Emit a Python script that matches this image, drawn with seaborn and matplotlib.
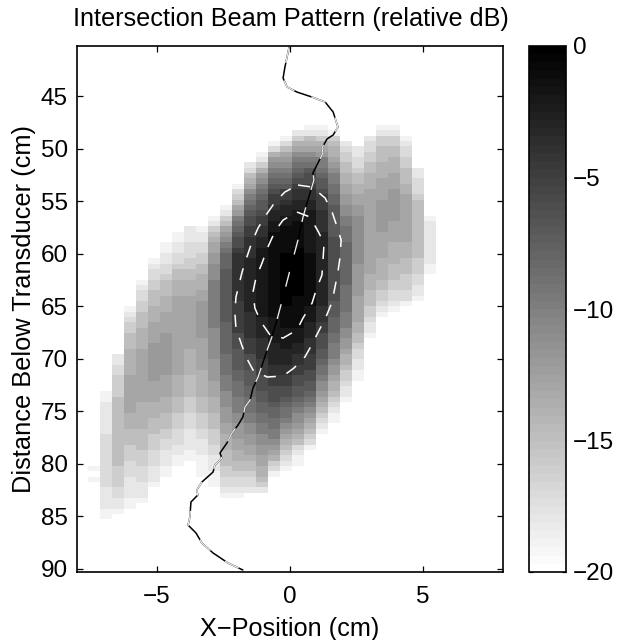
import numpy as np
import pandas as pd
import matplotlib
matplotlib.use('Agg')
import matplotlib.pyplot as plt
import seaborn as sns

# Beam pattern cells in dB, one list per x column, read top to bottom from the first row in col_start
col_start = [64, 50, 43, 34, 29, 25, 22, 20, 19, 19, 17, 15, 11, 7, 5, 3, 2, 1, 0, 0, 1, 3, 4, 2, 0, 0, 2, 8, 17]

col_00 = [-19, -20, -19]
col_01 = [-19, -19, -18, -18, -18, -18, -18, -18, -17, -17, -17, -17, -17, -17, -17, -17, -17, -17, -18, -18, -18, -18, -19, -19]
col_02 = [-18, -18, -17, -17, -16, -16, -16, -16, -15, -15, -15, -15, -15, -15, -15, -15, -15, -15, -15, -15, -15, -16, -16, -16, -16, -17, -17, -18, -18, -19]
col_03 = [-19, -18, -17, -16, -16, -15, -15, -15, -14, -14, -14, -14, -14, -13, -13, -13, -13, -13, -13, -13, -14, -14, -14, -15, -15, -15, -16, -16, -16, -17, -17, -17, -18, -18, -18, -18, -19, -19]
col_04 = [-19, -18, -17, -17, -16, -16, -15, -15, -15, -14, -14, -14, -14, -13, -13, -13, -13, -13, -13, -13, -13, -13, -13, -14, -14, -14, -14, -14, -15, -15, -15, -15, -16, -16, -16, -17, -17, -17, -18, -18, -18, -19]
col_05 = [-19, -18, -17, -17, -16, -16, -15, -15, -15, -14, -14, -14, -13, -13, -13, -13, -12, -12, -12, -12, -12, -12, -12, -13, -13, -13, -13, -14, -14, -14, -15, -15, -15, -16, -16, -16, -17, -17, -17, -18, -18, -18, -19]
col_06 = [-19, -19, -18, -18, -17, -17, -16, -15, -15, -15, -14, -14, -14, -13, -13, -13, -13, -12, -12, -12, -12, -12, -12, -12, -12, -13, -13, -13, -13, -14, -14, -14, -15, -15, -15, -16, -16, -17, -17, -18, -18, -18, -19, -19]
col_07 = [-19, -19, -18, -18, -17, -17, -16, -15, -15, -14, -14, -14, -13, -13, -13, -13, -13, -13, -13, -13, -13, -13, -13, -13, -13, -13, -13, -14, -14, -14, -14, -15, -15, -15, -16, -16, -16, -17, -17, -17, -18, -18, -19, -19]
col_08 = [-18, -18, -18, -17, -17, -17, -16, -16, -15, -15, -14, -14, -14, -13, -13, -13, -13, -13, -13, -13, -13, -13, -13, -14, -14, -14, -14, -14, -15, -15, -15, -15, -16, -16, -16, -17, -17, -17, -18, -18, -18, -18, -19, -19]
col_09 = [-19, -18, -18, -17, -17, -16, -16, -15, -15, -14, -14, -14, -13, -13, -12, -12, -12, -12, -12, -12, -12, -13, -13, -13, -13, -13, -13, -14, -14, -14, -14, -14, -15, -15, -15, -16, -16, -16, -17, -17, -18, -18, -18, -19, -19, -19, -19]
col_10 = [-19, -18, -16, -15, -14, -13, -13, -12, -12, -11, -11, -11, -10, -10, -10, -10, -10, -10, -10, -10, -10, -11, -11, -11, -11, -11, -11, -12, -12, -12, -12, -13, -13, -13, -14, -14, -14, -15, -15, -15, -16, -16, -16, -17, -17, -18, -18, -18, -19, -19, -19]
col_11 = [-19, -18, -16, -15, -13, -12, -11, -10, -9, -8, -8, -8, -7, -7, -7, -7, -7, -7, -7, -7, -7, -7, -8, -8, -8, -8, -8, -8, -9, -9, -9, -9, -10, -10, -10, -11, -11, -11, -12, -12, -12, -13, -13, -14, -14, -14, -15, -15, -15, -16, -16, -17, -17, -18, -19]
col_12 = [-19, -17, -16, -15, -13, -12, -10, -9, -8, -7, -6, -6, -5, -4, -4, -4, -4, -4, -4, -4, -4, -4, -5, -5, -5, -5, -5, -5, -6, -6, -6, -7, -7, -7, -7, -8, -8, -9, -9, -9, -10, -10, -10, -11, -11, -12, -12, -12, -13, -13, -14, -14, -15, -15, -16, -17, -17, -18, -19]
col_13 = [-18, -17, -15, -14, -13, -11, -10, -9, -8, -7, -6, -6, -5, -5, -4, -4, -4, -4, -3, -3, -3, -3, -3, -3, -3, -3, -3, -3, -4, -4, -4, -4, -4, -5, -5, -5, -6, -6, -6, -7, -7, -7, -8, -8, -9, -9, -9, -10, -10, -11, -11, -12, -12, -13, -13, -14, -15, -15, -16, -17, -17, -18]
col_14 = [-19, -18, -16, -14, -12, -11, -10, -9, -8, -7, -7, -6, -5, -5, -4, -4, -3, -3, -2, -2, -2, -2, -2, -2, -2, -2, -2, -2, -2, -2, -2, -3, -3, -3, -3, -4, -4, -4, -4, -5, -5, -5, -6, -6, -6, -7, -7, -8, -8, -9, -9, -10, -10, -11, -11, -12, -12, -13, -13, -14, -14, -15, -16, -18]
col_15 = [-19, -17, -14, -12, -11, -10, -9, -8, -7, -6, -5, -5, -4, -3, -3, -2, -2, -1, -1, -1, -1, -1, -1, -1, -1, -1, -1, -1, -1, -1, -1, -1, -1, -2, -2, -2, -2, -2, -3, -3, -3, -3, -4, -4, -5, -5, -6, -6, -6, -7, -8, -8, -9, -9, -10, -10, -11, -12, -13, -14, -16, -17, -19]
col_16 = [-19, -17, -15, -13, -12, -11, -10, -9, -8, -7, -5, -5, -4, -3, -3, -2, -2, -1, -1, -1, -1, -1, 0, 0, 0, 0, 0, 0, 0, 0, 0, 0, -1, -1, -1, -1, -2, -2, -2, -2, -3, -3, -3, -4, -4, -5, -5, -6, -6, -7, -8, -9, -9, -10, -11, -12, -13, -14, -15, -16, -17, -18, -19]
col_17 = [-18, -16, -14, -13, -11, -10, -9, -8, -7, -6, -5, -4, -4, -3, -3, -2, -2, -1, -1, -1, -1, -1, 0, 0, 0, 0, 0, 0, 0, 0, 0, -1, -1, -1, -1, -1, -1, -2, -2, -2, -3, -3, -4, -4, -5, -5, -6, -6, -7, -7, -8, -9, -10, -11, -11, -12, -13, -14, -15, -17, -18, -19, -19]
col_18 = [-19, -18, -15, -14, -13, -11, -10, -9, -7, -6, -6, -5, -4, -4, -3, -3, -2, -2, -2, -2, -2, -2, -2, -2, -1, -1, -1, -1, -1, -1, -1, -1, -1, -1, -2, -2, -2, -3, -3, -3, -4, -4, -4, -5, -5, -5, -6, -6, -7, -7, -8, -9, -10, -11, -12, -13, -14, -15, -16, -17, -19]
col_19 = [-19, -18, -16, -14, -13, -12, -10, -10, -9, -8, -7, -7, -6, -5, -5, -5, -4, -4, -4, -4, -3, -3, -3, -3, -3, -3, -3, -3, -3, -3, -3, -3, -3, -3, -4, -4, -4, -5, -5, -6, -6, -6, -7, -7, -8, -9, -9, -10, -11, -11, -12, -13, -14, -15, -16, -17, -18, -19]
col_20 = [-19, -16, -15, -14, -14, -13, -12, -11, -10, -10, -9, -9, -8, -8, -7, -7, -7, -7, -7, -7, -6, -6, -6, -6, -6, -6, -6, -6, -6, -6, -6, -6, -7, -7, -7, -8, -8, -8, -9, -9, -10, -10, -10, -11, -12, -12, -13, -14, -14, -15, -16, -17, -18, -19, -19]
col_21 = [-18, -17, -16, -16, -15, -15, -14, -14, -13, -13, -12, -12, -11, -11, -10, -10, -9, -9, -9, -8, -8, -8, -8, -8, -8, -8, -8, -9, -9, -9, -9, -9, -10, -10, -10, -11, -11, -12, -12, -13, -14, -14, -15, -16, -16, -17, -18, -18, -19]
col_22 = [-18, -18, -17, -17, -16, -15, -15, -14, -14, -13, -13, -12, -12, -11, -11, -11, -11, -11, -11, -11, -11, -11, -12, -12, -12, -12, -12, -12, -13, -13, -13, -13, -13, -14, -14, -15, -15, -16, -17, -17, -18, -18, -19, -19]
col_23 = [-18, -17, -17, -16, -16, -15, -15, -14, -14, -14, -13, -13, -13, -13, -13, -13, -13, -13, -13, -13, -13, -13, -13, -13, -13, -13, -14, -14, -14, -15, -15, -15, -16, -16, -17, -18, -18, -19]
col_24 = [-19, -18, -16, -16, -15, -15, -15, -14, -14, -14, -13, -13, -13, -13, -12, -12, -12, -12, -12, -12, -13, -13, -13, -13, -13, -14, -14, -14, -14, -15, -15, -16, -16, -17, -18, -19]
col_25 = [-19, -18, -16, -16, -15, -15, -14, -14, -14, -13, -13, -13, -12, -12, -12, -12, -12, -12, -13, -13, -13, -13, -14, -14, -14, -14, -15, -15, -15, -16, -16, -17, -17, -18, -19]
col_26 = [-19, -18, -17, -17, -16, -16, -15, -15, -15, -14, -14, -13, -13, -13, -13, -13, -13, -13, -13, -13, -14, -14, -14, -15, -15, -15, -16, -16, -16, -17, -17, -19]
col_27 = [-18, -18, -17, -17, -17, -16, -15, -15, -15, -15, -15, -15, -15, -15, -15, -15, -15, -16, -16, -16, -17, -17, -18, -18, -19]
col_28 = [-19, -18, -18, -18, -18, -18, -18, -18, -18, -19, -19]

columns = [col_00, col_01, col_02, col_03, col_04, col_05, col_06, col_07, col_08, col_09,
           col_10, col_11, col_12, col_13, col_14, col_15, col_16, col_17, col_18, col_19,
           col_20, col_21, col_22, col_23, col_24, col_25, col_26, col_27, col_28]

# Wavy track through the beam (cm)
track_x = [-.04, -.19, -.26, -.11, .26, .83, 1.32, 1.62, 1.80, 1.62, 1.39, 1.20, 1.24, 1.05, .86, .90, .75, .49, .30, 0,
           -.26, -.49, -.68, -.86, -1.02, -1.20, -1.39, -1.50, -1.69, -1.77, -1.95, -2.18, -2.37, -2.63, -2.56, -2.82,
           -2.89, -3.31, -3.50, -3.46, -3.72, -3.76, -3.83, -3.53, -3.31, -2.89, -2.33, -1.77]
track_y = [40.43, 42.24, 43.29, 44.14, 44.62, 45.10, 45.57, 46.52, 47.95, 48.71, 49.09, 49.95, 50.42, 51.37, 52.33, 52.99,
           54.23, 56.51, 58.70, 61.56, 64.12, 66.31, 67.93, 69.17, 70.40, 71.74, 72.78, 73.93, 74.59, 75.54, 76.30, 77.06,
           78.02, 78.97, 79.44, 80.11, 80.78, 81.73, 82.49, 82.96, 83.63, 85.06, 85.82, 86.58, 87.53, 88.48, 89.43, 90.10]

# Dashed contours (cm)
outer_x = [.30, .83, 1.32, 1.58, 1.77, 1.92, 1.88, 1.80, 1.69, 1.58, 1.35, .75, .56, .15, -.26, -.86, -1.39, -1.65, -1.84,
           -2.03, -2.07, -2.03, -1.80, -1.62, -1.43, -1.20, -.90, -.56, -.19, .30]
outer_y = [53.47, 53.66, 54.71, 56.04, 57.46, 58.70, 60.32, 61.75, 63.17, 64.60, 66.03, 68.98, 69.83, 70.88, 71.64, 71.74,
           71.07, 69.83, 68.50, 67.07, 65.65, 64.12, 61.75, 60.32, 58.89, 57.56, 56.32, 55.09, 54.13, 53.47]
inner_x = [.26, .75, 1.05, 1.28, 1.24, 1.20, .98, .83, .49, .26, -.26, -.75, -1.09, -1.32, -1.39, -1.28, -1.05, -.83, -.56, -.26, .26]
inner_y = [56.04, 56.51, 57.85, 58.99, 60.60, 62.03, 63.46, 64.70, 66.12, 67.26, 68.03, 67.74, 66.50, 65.17, 63.65, 62.32,
           60.89, 59.37, 57.85, 56.80, 56.04]

x_ticks = [-5, 0, 5]
y_ticks = [45, 50, 55, 60, 65, 70, 75, 80, 85, 90]
cbar_ticks = [0, -5, -10, -15, -20]

# Grid layout in cm
x0, dx = -7.59, 0.451
y0, dy = 47.76, 0.507
n_rows = 80


def to_col(x):
    return (np.asarray(x) - x0) / dx


def to_row(y):
    return (np.asarray(y) - y0) / dy


# Fills the grid, white (-20) outside the listed cells
grid = np.full((n_rows, len(columns)), -20.0)
for k, values in enumerate(columns):
    grid[col_start[k]:col_start[k] + len(values), k] = values
df = pd.DataFrame(grid)

sns.set_style('ticks')
plt.rcParams['font.family'] = ['Liberation Sans', 'DejaVu Sans']
plt.rcParams['axes.edgecolor'] = 'black'
plt.rcParams['xtick.color'] = 'black'
plt.rcParams['ytick.color'] = 'black'
plt.rcParams['text.color'] = 'black'
plt.rcParams['axes.labelcolor'] = 'black'

fig = plt.figure(figsize=(6.2, 6.4), dpi=100)
ax = fig.add_axes([77 / 620, 1 - 572 / 640, 426 / 620, 526 / 640])
cax = fig.add_axes([529 / 620, 1 - 572 / 640, 37 / 620, 526 / 640])

sns.heatmap(df, ax=ax, cbar_ax=cax, cmap=plt.get_cmap('gray_r', 64), vmin=-20, vmax=0,
            xticklabels=False, yticklabels=False, cbar_kws={'ticks': cbar_ticks})

# Track: black with white dashes over it
ax.plot(to_col(track_x), to_row(track_y), color='black', lw=1.1, zorder=3)
ax.plot(to_col(track_x), to_row(track_y), color='#e8e8e8', lw=1.0, linestyle=(0, (11, 13)), zorder=4)

ax.plot(to_col(outer_x), to_row(outer_y), color='white', lw=1.1, linestyle=(0, (8, 7.5)), zorder=5)
ax.plot(to_col(inner_x), to_row(inner_y), color='white', lw=1.1, linestyle=(0, (8, 7.5)), zorder=5)

ax.set_xlim(to_col(-8), to_col(8))
ax.set_ylim(to_row(90.29), to_row(40.24))
ax.set_xticks(to_col(x_ticks))
ax.set_xticklabels(['\u22125', '0', '5'])
ax.set_yticks(to_row(y_ticks))
ax.set_yticklabels([str(v) for v in y_ticks], rotation=0)
ax.tick_params(axis='both', direction='in', length=4, width=0.9, top=True, right=True, bottom=True, left=True,
               labelsize=17.5)
ax.tick_params(axis='y', pad=6.5)
ax.tick_params(axis='x', pad=10)
ax.set_xlabel('X\u2212Position (cm)', fontsize=18.2, labelpad=6.5)
ax.set_ylabel('Distance Below Transducer (cm)', fontsize=18.3, labelpad=3.5)
for spine in ax.spines.values():
    spine.set_visible(True)
    spine.set_linewidth(1.2)

cbar = ax.collections[0].colorbar
cbar.outline.set_visible(True)
cbar.outline.set_linewidth(1.2)
cbar.outline.set_edgecolor('black')
cax.tick_params(direction='in', length=3, width=0.9, left=True, right=True, labelsize=17.5, pad=5)

fig.text(73 / 620, 1 - 19 / 640, 'Intersection Beam Pattern (relative dB)', fontsize=18.2, va='center', ha='left')

plt.savefig('out.png', dpi=100)
